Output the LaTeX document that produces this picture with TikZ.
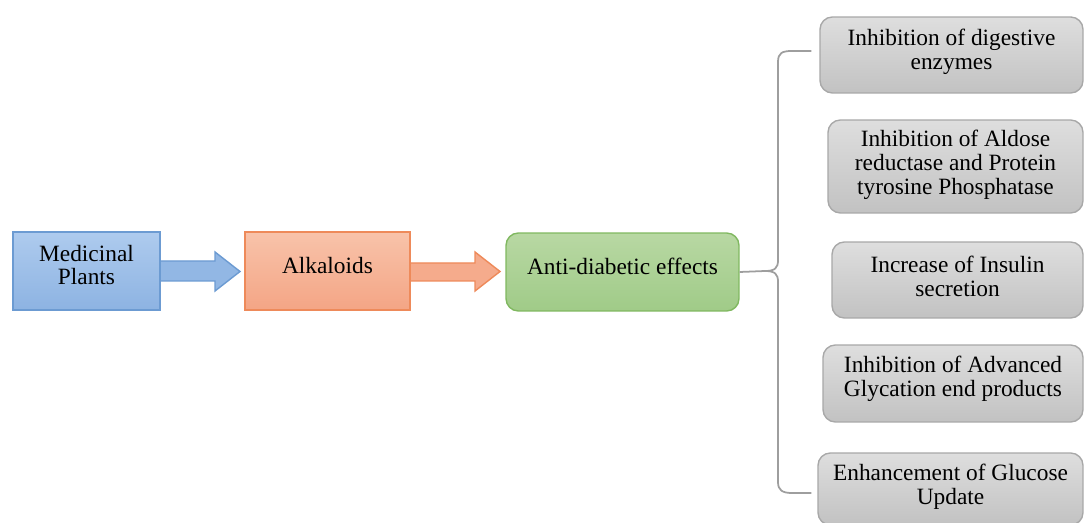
\documentclass[tikz,border=0pt]{standalone}
\usepackage{fontspec}
\setmainfont{Liberation Serif}
\usetikzlibrary{calc}
\definecolor{bluetop}{HTML}{AECBEE}
\definecolor{bluebot}{HTML}{8DB3E2}
\definecolor{blueline}{HTML}{6C9BD2}
\definecolor{saltop}{HTML}{F8C3AA}
\definecolor{salbot}{HTML}{F4A585}
\definecolor{salline}{HTML}{EE8A5A}
\definecolor{grntop}{HTML}{B8D8A3}
\definecolor{grnbot}{HTML}{A0CB88}
\definecolor{grnline}{HTML}{80B860}
\definecolor{graytop}{HTML}{DEDEDE}
\definecolor{graybot}{HTML}{C2C2C2}
\definecolor{grayline}{HTML}{A8A8A8}
\definecolor{braceline}{HTML}{9E9E9E}
\tikzset{
  txt/.style={font=\fontsize{13.3}{13.6}\selectfont, align=center, inner sep=0pt},
  boxtext/.style 2 args={label={[txt,yshift=#1]center:{#2}}},
  bluebox/.style={txt, draw=blueline, line width=0.8pt, top color=bluetop, bottom color=bluebot},
  salbox/.style={txt, draw=salline, line width=0.8pt, top color=saltop, bottom color=salbot},
  grnbox/.style={txt, draw=grnline, line width=0.8pt, top color=grntop, bottom color=grnbot, rounded corners=7pt},
  graybox/.style={txt, draw=grayline, line width=0.8pt, top color=graytop, bottom color=graybot, rounded corners=7pt},
  bluearrow/.style={draw=blueline, line width=0.8pt, fill=bluebot!85!bluetop},
  salarrow/.style={draw=salline, line width=0.8pt, fill=salbot!80!saltop},
  brace/.style={draw=braceline, line width=1pt}
}
\begin{document}
\begin{tikzpicture}[x=0.02cm,y=-0.02cm]
\useasboundingbox (0,0) rectangle (1084,523);
\clip (0,0) rectangle (1084,523);

% block arrows (drawn first, under the boxes)
\fill[bluearrow, draw=none] (158,261) -- (215,261) -- (215,252) -- (240,271.5) -- (215,291) -- (215,281) -- (158,281) -- cycle;
\draw[bluearrow, fill=none] (160,261) -- (215,261) -- (215,252) -- (240,271.5) -- (215,291) -- (215,281) -- (160,281);
\fill[salarrow, draw=none] (408,263) -- (475,263) -- (475,252) -- (500,271.5) -- (475,291) -- (475,281) -- (408,281) -- cycle;
\draw[salarrow, fill=none] (410,263) -- (475,263) -- (475,252) -- (500,271.5) -- (475,291) -- (475,281) -- (410,281);

\node[bluebox, minimum width=2.94cm, minimum height=1.56cm, boxtext={3.4pt}{Medicinal\\Plants}] (mp) at (86.5,271) {};
\node[salbox, minimum width=3.3cm, minimum height=1.56cm, boxtext={3.4pt}{Alkaloids}] (alk) at (327.5,271) {};
\node[grnbox, minimum width=4.66cm, minimum height=1.56cm, boxtext={3.4pt}{Anti-diabetic effects}] (anti) at (622.5,272) {};

\node[graybox, minimum width=5.26cm, minimum height=1.52cm, boxtext={1.7pt}{Inhibition of digestive\\enzymes}] (g1) at (951.5,55) {};
\node[graybox, minimum width=5.1cm, minimum height=1.86cm, boxtext={0.8pt}{Inhibition of Aldose\\reductase and Protein\\tyrosine Phosphatase}] (g2) at (955.5,166.5) {};
\node[graybox, minimum width=5.02cm, minimum height=1.52cm, boxtext={2.2pt}{Increase of Insulin\\secretion}] (g3) at (957.5,280) {};
\node[graybox, minimum width=5.2cm, minimum height=1.54cm, boxtext={2.5pt}{Inhibition of Advanced\\Glycation end products}] (g4) at (953,383.5) {};
\node[graybox, minimum width=5.3cm, minimum height=1.44cm, boxtext={1.1pt}{Enhancement of Glucose\\Update}] (g5) at (950.5,489) {};

% brace connector
\coordinate (tip) at (765,271);
\coordinate (topend) at ($(g1.west)+(-8,-4)$);
\coordinate (botend) at ($(g5.west)+(-6,4)$);
\draw[brace] (anti.east) -- (tip)
  .. controls (775,271) and (778,268) .. (778,260)
  -- (778,62) .. controls (778,53) and (782,51) .. (792,51) -- (topend);
\draw[brace] (tip)
  .. controls (775,271) and (778,274) .. (778,282)
  -- (778,482) .. controls (778,490) and (782,493) .. (792,493) -- (botend);
\end{tikzpicture}
\end{document}
